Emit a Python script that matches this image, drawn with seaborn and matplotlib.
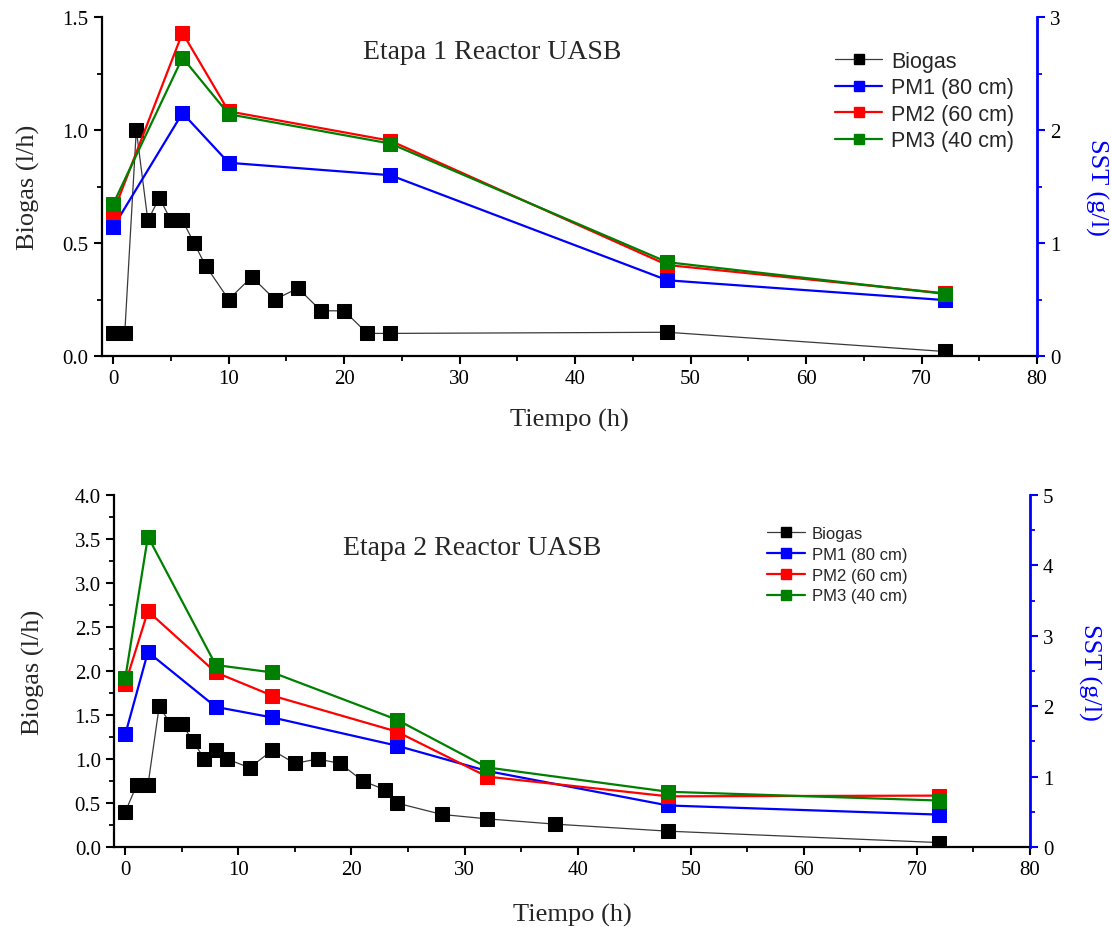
import matplotlib
matplotlib.use("Agg")
import numpy as np
import pandas as pd
import seaborn as sns
import matplotlib.pyplot as plt
from matplotlib.ticker import MultipleLocator
from matplotlib.lines import Line2D

# ---------------- data ----------------
t1_bio = [0, 1, 2, 3, 4, 5, 6, 7, 8, 10, 12, 14, 16, 18, 20, 22, 24, 48, 72]
bio1 = [0.1, 0.1, 1.0, 0.6, 0.7, 0.6, 0.6, 0.5, 0.4, 0.25, 0.35, 0.25, 0.3, 0.2, 0.2, 0.1, 0.1, 0.105, 0.02]
t1_pm = [0, 6, 10, 24, 48, 72]
pm1_1 = [1.14, 2.15, 1.71, 1.60, 0.67, 0.495]
pm2_1 = [1.27, 2.86, 2.165, 1.905, 0.805, 0.555]
pm3_1 = [1.345, 2.64, 2.14, 1.88, 0.83, 0.55]

t2_bio = [0, 1, 2, 3, 4, 5, 6, 7, 8, 9, 11, 13, 15, 17, 19, 21, 23, 24, 28, 32, 38, 48, 72]
bio2 = [0.4, 0.7, 0.7, 1.6, 1.4, 1.4, 1.2, 1.0, 1.1, 1.0, 0.9, 1.1, 0.95, 1.0, 0.95, 0.75, 0.65, 0.5, 0.37, 0.32, 0.26, 0.18, 0.05]
t2_pm = [0, 2, 8, 13, 24, 32, 48, 72]
pm1_2 = [1.60, 2.77, 1.99, 1.84, 1.44, 1.08, 0.59, 0.46]
pm2_2 = [2.32, 3.35, 2.48, 2.15, 1.64, 1.00, 0.72, 0.73]
pm3_2 = [2.40, 4.41, 2.585, 2.48, 1.81, 1.13, 0.785, 0.66]

series_names = ["Biogas", "PM1 (80 cm)", "PM2 (60 cm)", "PM3 (40 cm)"]
titles = ["Etapa 1 Reactor UASB", "Etapa 2 Reactor UASB"]
xlabel = "Tiempo (h)"
ylabel_left = "Biogas (l/h)"
ylabel_right = "SST (g/l)"

sns.set_style("ticks")
plt.rcParams["font.family"] = ["Liberation Serif", "DejaVu Serif"]

PM_COLORS = ["#0000ff", "#ff0000", "#008000"]

fig = plt.figure(figsize=(11.11, 9.28), dpi=100)

SERIF = "Liberation Serif"
SANS = "Liberation Sans"


def draw(rect, t_bio, bio, t_pm, pms, ylim_l, ymaj_l, ylim_r, ymaj_r, title, title_pos,
         leg_anchor, leg_fs, handlelen, leg_spacing, ylab_x, ylab2_x, xlab_pad):
    ax = fig.add_axes(rect)
    ax2 = ax.twinx()
    df_b = pd.DataFrame({"t": t_bio, "v": bio})
    sns.lineplot(data=df_b, x="t", y="v", ax=ax, color="#3a3a3a", lw=0.9,
                 marker="s", markersize=10, markerfacecolor="black",
                 markeredgecolor="black", estimator=None, sort=False, zorder=3)
    for vals, c in zip(pms, PM_COLORS):
        df_p = pd.DataFrame({"t": t_pm, "v": vals})
        sns.lineplot(data=df_p, x="t", y="v", ax=ax2, color=c, lw=1.6,
                     marker="s", markersize=9.5, markerfacecolor=c,
                     markeredgecolor=c, estimator=None, sort=False)
    ax.set_xlim(-1, 80)
    ax.set_ylim(*ylim_l)
    ax2.set_ylim(*ylim_r)
    ax.xaxis.set_major_locator(MultipleLocator(10))
    ax.xaxis.set_minor_locator(MultipleLocator(5))
    ax.yaxis.set_major_locator(MultipleLocator(ymaj_l))
    ax.yaxis.set_minor_locator(MultipleLocator(ymaj_l / 2))
    ax2.yaxis.set_major_locator(MultipleLocator(ymaj_r))
    ax2.yaxis.set_minor_locator(MultipleLocator(ymaj_r / 2))
    ax.yaxis.set_major_formatter(matplotlib.ticker.FormatStrFormatter("%.1f"))

    for a in (ax, ax2):
        a.spines["top"].set_visible(False)
    ax2.spines["left"].set_visible(False)
    ax2.spines["bottom"].set_visible(False)
    ax.spines["right"].set_visible(False)
    for s in ("left", "bottom"):
        ax.spines[s].set_linewidth(1.6)
        ax.spines[s].set_color("black")
    ax2.spines["right"].set_color("#0000ff")
    ax2.spines["right"].set_linewidth(2.0)

    ax.tick_params(axis="both", which="major", direction="out", length=6, width=1.5,
                   labelsize=15, colors="black")
    ax.tick_params(axis="both", which="minor", direction="out", length=3.5, width=1.3,
                   colors="black")
    ax2.tick_params(axis="y", which="major", direction="out", length=6, width=1.5,
                    labelsize=15, color="#0000ff", labelcolor="black")
    ax2.tick_params(axis="y", which="minor", direction="out", length=3.5, width=1.3,
                    color="#0000ff")
    for lab in ax.get_xticklabels() + ax.get_yticklabels() + ax2.get_yticklabels():
        lab.set_fontfamily(SERIF)

    ax.set_xlabel(xlabel, fontsize=19, family=SERIF, labelpad=xlab_pad)
    ax.set_ylabel(ylabel_left, fontsize=19, family=SERIF)
    ax.yaxis.set_label_coords(ylab_x, 0.5)
    ax2.set_ylabel(ylabel_right, fontsize=19, family=SERIF, color="#0000ff",
                   rotation=270, va="center")
    ax2.yaxis.set_label_coords(ylab2_x, 0.5)

    ax.text(title_pos[0], title_pos[1], title, transform=ax.transAxes,
            fontsize=20, family=SERIF, ha="center", va="center")

    handles = [Line2D([], [], color="#3a3a3a", lw=0.9, marker="s", markersize=7,
                      markerfacecolor="black", markeredgecolor="black")]
    for c in PM_COLORS:
        handles.append(Line2D([], [], color=c, lw=1.6, marker="s", markersize=7,
                              markerfacecolor=c, markeredgecolor=c))
    ax2.legend(handles, series_names, loc="upper left", bbox_to_anchor=leg_anchor,
               frameon=False, prop={"family": SANS, "size": leg_fs},
               handlelength=handlelen, handletextpad=0.4, borderpad=0,
               borderaxespad=0, labelspacing=leg_spacing)
    return ax, ax2


# top panel: axes spans x 101.7..1037 px, y 18..357 px
draw([0.0915, 0.6153, 0.9334 - 0.0915, 0.9806 - 0.6153], t1_bio, bio1, t1_pm,
     [pm1_1, pm2_1, pm3_1], (0, 1.5), 0.5, (0, 3), 1, titles[0], (0.417, 0.898),
     (0.784, 0.90), 15.5, 2.2, 0.25, -0.066, 1.064, 14)

# bottom panel: axes spans x 114..1030 px, y 496..848 px
draw([0.1026, 0.0862, 0.927 - 0.1026, 0.4655 - 0.0862], t2_bio, bio2, t2_pm,
     [pm1_2, pm2_2, pm3_2], (0, 4.0), 0.5, (0, 5), 1, titles[1], (0.391, 0.852),
     (0.713, 0.912), 12, 2.3, 0.35, -0.075, 1.065, 17)

fig.savefig("out.png", dpi=100)
